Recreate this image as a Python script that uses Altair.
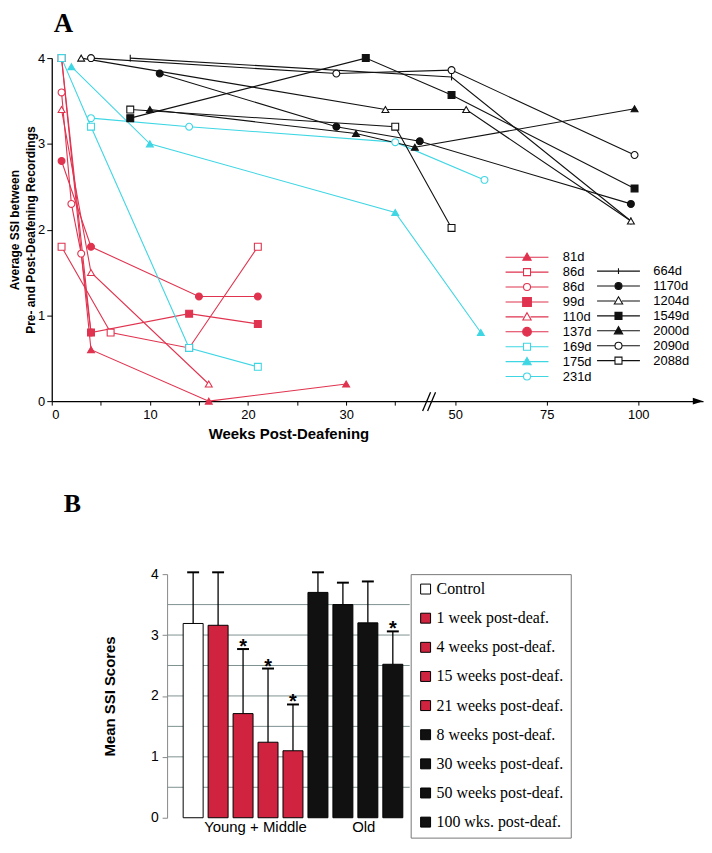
import altair as alt
import pandas as pd

# ---------------- Panel A data ----------------
series_ids = ["81d", "86d|sq", "86d|ci", "99d", "110d", "137d", "169d", "175d", "231d",
              "664d", "1170d", "1204d", "1549d", "2000d", "2090d", "2088d"]
series_group = ["red"] * 6 + ["cyan"] * 3 + ["black"] * 7
series_marker = ["tri", "sq", "ci", "sq", "tri", "ci", "sq", "tri", "ci",
                 "plus", "ci", "tri", "sq", "tri", "ci", "sq"]
series_filled = [True, False, False, True, False, True, False, True, False,
                 True, True, False, True, True, False, False]

weeks_81d = [1, 4, 16, 30]
ssi_81d = [4.0, 0.6, 0.0, 0.2]
weeks_86d_sq = [1, 6, 14, 21]
ssi_86d_sq = [1.8, 0.8, 0.62, 1.8]
weeks_86d_ci = [1, 2, 3, 4]
ssi_86d_ci = [3.6, 2.3, 1.72, 0.8]
weeks_99d = [1, 4, 14, 21]
ssi_99d = [4.0, 0.8, 1.02, 0.9]
weeks_110d = [1, 4, 16]
ssi_110d = [3.4, 1.5, 0.2]
weeks_137d = [1, 4, 15, 21]
ssi_137d = [2.8, 1.8, 1.22, 1.22]
weeks_169d = [1, 4, 14, 21]
ssi_169d = [4.0, 3.2, 0.62, 0.4]
weeks_175d = [2, 10, 35, 57]
ssi_175d = [3.9, 3.0, 2.2, 0.8]
weeks_231d = [4, 14, 35, 58]
ssi_231d = [3.3, 3.2, 3.02, 2.58]
weeks_664d = [8, 49, 98]
ssi_664d = [4.0, 3.78, 2.1]
weeks_1170d = [11, 29, 37.5, 98]
ssi_1170d = [3.82, 3.2, 3.03, 2.3]
weeks_1204d = [3, 34, 53, 98]
ssi_1204d = [4.0, 3.4, 3.4, 2.1]
weeks_1549d = [8, 32, 49, 99]
ssi_1549d = [3.3, 4.0, 3.57, 2.48]
weeks_2000d = [10, 31, 37, 99]
ssi_2000d = [3.4, 3.12, 2.96, 3.41]
weeks_2090d = [4, 29, 49, 99]
ssi_2090d = [4.0, 3.82, 3.86, 2.87]
weeks_2088d = [8, 35, 49]
ssi_2088d = [3.4, 3.2, 2.02]

series_weeks = [weeks_81d, weeks_86d_sq, weeks_86d_ci, weeks_99d, weeks_110d, weeks_137d,
                weeks_169d, weeks_175d, weeks_231d, weeks_664d, weeks_1170d, weeks_1204d,
                weeks_1549d, weeks_2000d, weeks_2090d, weeks_2088d]
series_ssi = [ssi_81d, ssi_86d_sq, ssi_86d_ci, ssi_99d, ssi_110d, ssi_137d,
              ssi_169d, ssi_175d, ssi_231d, ssi_664d, ssi_1170d, ssi_1204d,
              ssi_1549d, ssi_2000d, ssi_2090d, ssi_2088d]

x_ticks_A = [0, 5, 10, 15, 20, 25, 30, 35, 50, 75, 100]

# ---------------- Panel B data ----------------
bar_cats = ["Control", "1 week post-deaf.", "4 weeks post-deaf.", "15 weeks post-deaf.",
            "21 weeks post-deaf.", "8 weeks post-deaf.", "30 weeks post-deaf.",
            "50 weeks post-deaf.", "100 wks. post-deaf."]
bar_means = [3.19, 3.16, 1.71, 1.24, 1.10, 3.70, 3.50, 3.20, 2.52]
bar_upper = [4.03, 4.03, 2.77, 2.45, 1.86, 4.03, 3.86, 3.88, 3.06]
bar_star = [False, False, True, True, True, False, False, False, True]
bar_fill_kind = ["white", "red", "red", "red", "red", "black", "black", "black", "black"]
grid_B = [0.5, 1.0, 1.5, 2.0, 2.5, 3.0, 3.5]
y_ticks_B = [0, 0.5, 1, 1.5, 2, 2.5, 3, 3.5, 4]

# ---------------- styling ----------------
RED = "#e0334f"
CYAN = "#3fd6e4"
BLACK = "#111111"
BAR_RED = "#cf2340"
group_color = {"red": RED, "cyan": CYAN, "black": BLACK}
series_color = [group_color[g] for g in series_group]
series_fill = [c if f else "white" for c, f in zip(series_color, series_filled)]

plot_shape = {"tri": "triangle-up", "sq": "square", "ci": "circle", "plus": "M0,-1L0,1"}
series_plot_shape = [plot_shape[m] for m in series_marker]


def legend_path(kind, filled, big=False):
    r = 0.2 if big else 0.16
    if kind == "tri":
        mk = f"M0,-{r+0.03}L{r+0.03},{r-0.02}L-{r+0.03},{r-0.02}Z"
    elif kind == "sq":
        mk = f"M-{r},-{r}H{r}V{r}H-{r}Z"
    elif kind == "ci":
        mk = f"M{r},0A{r},{r} 0 1 1 -{r},0A{r},{r} 0 1 1 {r},0Z"
    else:
        mk = "M0,-0.13V0.13"
    if filled or kind == "plus":
        ln = "M-0.98,0H0.98"
    else:
        ln = f"M-0.98,0H-{r}M{r},0H0.98"
    return ln + mk


series_legend_shape = [legend_path(m, f, big=(s in ("99d", "137d")))
                       for s, m, f in zip(series_ids, series_marker, series_filled)]

rows = []
for sid, ws, vs in zip(series_ids, series_weeks, series_ssi):
    for i, (w, v) in enumerate(zip(ws, vs)):
        rows.append({"series": sid, "week": w, "ssi": v, "idx": i})
dfA = pd.DataFrame(rows)

xA = alt.X("week:Q",
           scale=alt.Scale(domain=[0, 38.5, 43, 117.7], range=[0, 380, 380, 655], nice=False, zero=False),
           axis=alt.Axis(values=x_ticks_A,
                         labelExpr="(datum.value % 10 == 0 && datum.value <= 30) || datum.value >= 50 ? datum.label : ''",
                         tickSize=4, tickColor="black", domainColor="black", domainWidth=1.3,
                         labelFont="Liberation Sans", labelFontSize=13, labelColor="black", labelPadding=3,
                         grid=False, title="Weeks Post-Deafening", titleFont="Liberation Sans",
                         titleFontSize=15, titleFontWeight="bold", titleX=238, titleY=26,
                         titleBaseline="top"))
yA = alt.Y("ssi:Q",
           scale=alt.Scale(domain=[0, 4], nice=False),
           axis=alt.Axis(values=[0, 1, 2, 3, 4], tickSize=5, tickColor="black", domainColor="black",
                         domainWidth=1.3, labelFont="Liberation Sans", labelFontSize=13,
                         labelColor="black", labelPadding=2, grid=False,
                         title=["Average SSI between", "Pre- and Post-Deafening Recordings"],
                         titleFont="Liberation Sans", titleFontSize=12, titleFontWeight="bold",
                         titleLineHeight=16, titlePadding=0))

baseA = alt.Chart(dfA)

lines = baseA.mark_line(strokeWidth=1.1).encode(
    x=xA, y=yA,
    color=alt.Color("series:N", scale=alt.Scale(domain=series_ids, range=series_color), legend=None),
    detail="series:N",
    order=alt.Order("idx:Q"),
)

points = baseA.mark_point(filled=True, size=48, strokeWidth=1.1, opacity=1).encode(
    x=xA, y=yA,
    shape=alt.Shape("series:N", scale=alt.Scale(domain=series_ids, range=series_plot_shape), legend=None),
    fill=alt.Fill("series:N", scale=alt.Scale(domain=series_ids, range=series_fill), legend=None),
    stroke=alt.Stroke("series:N", scale=alt.Scale(domain=series_ids, range=series_color), legend=None),
)


def carrier(n0, n1, lx, ly, loff):
    ids = series_ids[n0:n1]
    leg = alt.Legend(orient="none", legendX=lx, legendY=ly, title=None, direction="vertical",
                     symbolSize=1936, clipHeight=14.5, rowPadding=0, labelOffset=loff,
                     labelFont="Liberation Sans", labelFontSize=13, labelColor="black",
                     symbolStrokeWidth=1.1, symbolOpacity=1,
                     labelExpr="split(datum.label, '|')[0]")
    return baseA.transform_filter("false").mark_point(filled=True, size=1936, strokeWidth=1.1).encode(
        shape=alt.Shape("series:N", scale=alt.Scale(domain=ids, range=series_legend_shape[n0:n1]), legend=leg),
        fill=alt.Fill("series:N", scale=alt.Scale(domain=ids, range=series_fill[n0:n1]), legend=leg),
        stroke=alt.Stroke("series:N", scale=alt.Scale(domain=ids, range=series_color[n0:n1]), legend=leg),
    )


legYoung = carrier(0, 9, 455, 193, 13)
legOld = carrier(9, 16, 547, 207, 12)

one = alt.Chart(pd.DataFrame({"a": [0]}))
arrow = one.mark_point(shape="M-1,-0.65L1,0L-1,0.65Z", filled=True, color="black", size=110, opacity=1).encode(
    x=alt.value(650), y=alt.value(345))
brk1 = one.mark_rule(color="black", strokeWidth=1.3).encode(
    x=alt.value(373), x2=alt.value(381), y=alt.value(355), y2=alt.value(336))
brk2 = one.mark_rule(color="black", strokeWidth=1.3).encode(
    x=alt.value(378), x2=alt.value(386), y=alt.value(355), y2=alt.value(336))

chartA = alt.layer(lines, points, legYoung, legOld, arrow, brk1, brk2).resolve_scale(
    shape="independent", fill="independent", stroke="independent"
).properties(
    width=655, height=345,
    title=alt.TitleParams("A", anchor="start", frame="group", font="Liberation Serif", fontSize=27,
                          fontWeight="bold", color="black", baseline="bottom", offset=-13, dx=2),
)

# ---------------- Panel B ----------------
fill_map = {"white": "white", "red": BAR_RED, "black": BLACK}
dfB = pd.DataFrame({"cat": bar_cats, "mean": bar_means, "upper": bar_upper, "star": bar_star})
baseB = alt.Chart(dfB)
xB = alt.X("cat:N", sort=bar_cats,
           scale=alt.Scale(paddingInner=0.2, paddingOuter=0.46, align=0.7), axis=None)
yB_scale = alt.Scale(domain=[0, 4], nice=False)

grid = alt.Chart(pd.DataFrame({"g": grid_B})).mark_rule(color="#7f9090", strokeWidth=1).encode(
    y=alt.Y("g:Q", scale=yB_scale))

bars = baseB.mark_bar(stroke="black", strokeWidth=1).encode(
    x=xB,
    y=alt.Y("mean:Q", scale=yB_scale,
            axis=alt.Axis(values=y_ticks_B, format="~g", tickSize=5, tickColor="#888888",
                          domainColor="#888888", labelFont="Liberation Sans", labelFontSize=14,
                          labelColor="black", labelPadding=4, grid=False,
                          title="Mean SSI Scores", titleFont="Liberation Sans", titleFontSize=15,
                          titleFontWeight="bold", titlePadding=33)),
    color=alt.Color("cat:N", sort=bar_cats,
                    scale=alt.Scale(domain=bar_cats, range=[fill_map[k] for k in bar_fill_kind]),
                    legend=alt.Legend(title=None, orient="right", offset=0, symbolType="square",
                                      symbolSize=100, symbolStrokeColor="black", symbolStrokeWidth=1,
                                      labelFont="Liberation Serif", labelFontSize=16, labelColor="black",
                                      labelOffset=3, rowPadding=13.3, padding=7, strokeColor="#777777",
                                      labelLimit=300)),
)

err = baseB.mark_rule(color="black", strokeWidth=1.3).encode(
    x=xB, y=alt.Y("mean:Q", scale=yB_scale), y2="upper:Q")
caps = baseB.mark_tick(color="black", thickness=2, size=12, orient="horizontal", opacity=1).encode(
    x=xB, y=alt.Y("upper:Q", scale=yB_scale))
stars = baseB.transform_filter("datum.star").mark_text(
    text="*", font="Liberation Sans", fontSize=20, fontWeight="bold", color="black",
    baseline="alphabetic", dy=4).encode(x=xB, y=alt.Y("upper:Q", scale=yB_scale))

grp_names = ["Young + Middle", "Old"]
grp_anchor = ["4 weeks post-deaf.", "30 weeks post-deaf."]
dfG = pd.DataFrame({"cat": grp_anchor, "label": grp_names, "zero": [0, 0]})
lab1 = alt.Chart(dfG.iloc[[0]]).mark_text(font="Liberation Sans", fontSize=15, color="black",
                                          baseline="top", dx=12.5, dy=2).encode(
    x=xB, y=alt.Y("zero:Q", scale=yB_scale), text="label:N")
lab2 = alt.Chart(dfG.iloc[[1]]).mark_text(font="Liberation Sans", fontSize=15, color="black",
                                          baseline="top", dx=21, dy=2).encode(
    x=xB, y=alt.Y("zero:Q", scale=yB_scale), text="label:N")

chartB = alt.layer(grid, bars, err, caps, stars, lab1, lab2).properties(
    width=244, height=245,
    title=alt.TitleParams("B", anchor="start", frame="group", font="Liberation Serif", fontSize=26,
                          fontWeight="bold", color="black", baseline="bottom", offset=25, dx=-104),
)

spacer = one.mark_point(opacity=0).encode(
    x=alt.X("a:Q", axis=None), y=alt.Y("a:Q", axis=None)).properties(width=12, height=10)

rowB = alt.hconcat(spacer, chartB, spacing=0)

chart = alt.vconcat(chartA, rowB, spacing=49).resolve_scale(
    color="independent", fill="independent", stroke="independent", shape="independent"
).properties(padding=0, background="white").configure_view(stroke=None)

chart.save("out.html", embed_options={"renderer": "svg", "actions": False})
